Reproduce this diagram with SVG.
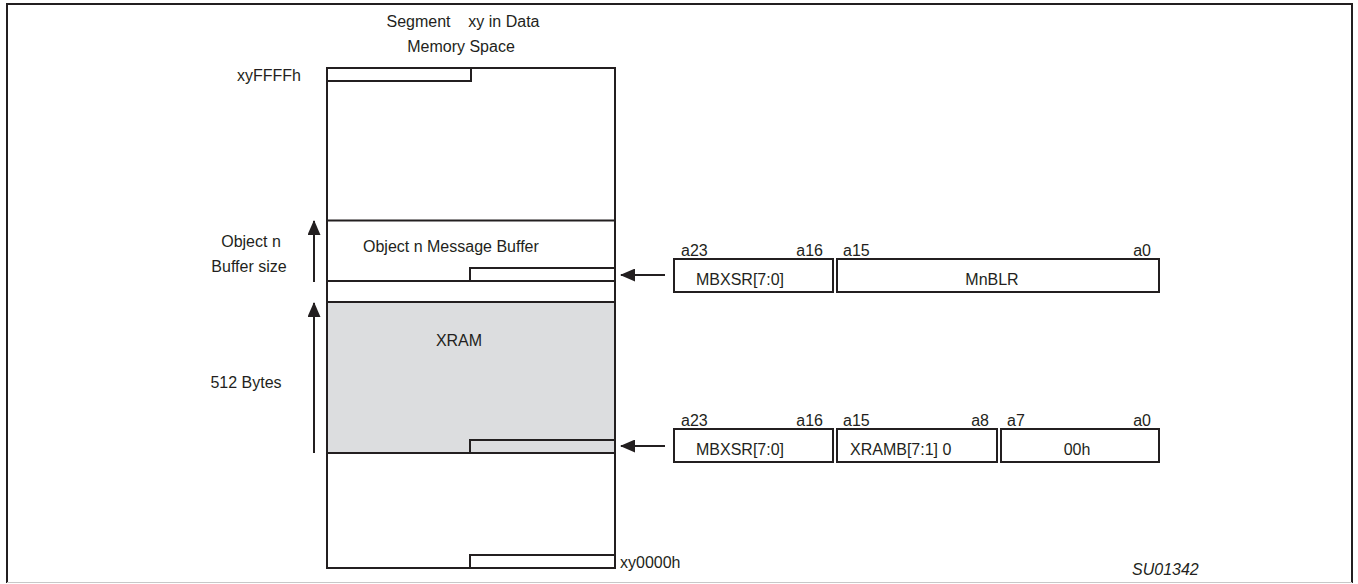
<svg xmlns="http://www.w3.org/2000/svg" width="1358" height="584" viewBox="0 0 1358 584">
<style>
text{font-family:"Liberation Sans",Arial,sans-serif;font-size:16px;fill:#231f20}
.ln{fill:none;stroke:#231f20;stroke-width:2}
.bx{fill:#fff;stroke:#231f20;stroke-width:2}
.gr{fill:#dcdddf;stroke:#231f20;stroke-width:2}
.ar{stroke:#231f20;stroke-width:2;fill:none}
.mid{text-anchor:middle}
.end{text-anchor:end}
</style>
<defs>
<marker id="ah" viewBox="0 0 15 13" refX="14" refY="6.5" markerWidth="15" markerHeight="13" markerUnits="userSpaceOnUse" orient="auto">
<path d="M0,0 L15,6.5 L0,13 Z" fill="#231f20"/>
</marker>
</defs>
<rect width="1358" height="584" fill="#fff"/>
<g id="frame">
<path d="M7,583 V4 H1352 V583" class="ln"/>
<line x1="7" y1="582.5" x2="1352" y2="582.5" stroke="#c8c8c8" stroke-width="1"/>
</g>
<g id="title">
<text x="463" y="27" class="mid" xml:space="preserve">Segment    xy in Data</text>
<text x="461" y="52" class="mid">Memory Space</text>
</g>
<g id="memory">
<rect x="327" y="68" width="288" height="500" class="bx"/>
<line x1="327" y1="220.5" x2="615" y2="220.5" class="ln"/>
<line x1="327" y1="281" x2="615" y2="281" class="ln"/>
<rect x="327" y="68" width="144" height="13" class="bx"/>
<text x="237" y="81">xyFFFFh</text>
<text x="620" y="568">xy0000h</text>
<rect x="470" y="555" width="145" height="13" class="bx"/>
</g>
<g id="msgbuf">
<text x="363" y="252">Object n Message Buffer</text>
<rect x="470" y="268" width="145" height="13" class="bx"/>
</g>
<g id="xram">
<rect x="327" y="302" width="288" height="151" class="gr"/>
<text x="459" y="346" class="mid">XRAM</text>
<rect x="470" y="440" width="145" height="13" class="gr"/>
</g>
<g id="labels">
<text x="251" y="247" class="mid">Object n</text>
<text x="249" y="272" class="mid">Buffer size</text>
<text x="246" y="388" class="mid">512 Bytes</text>
</g>
<g id="reg1">
<rect x="674" y="259" width="159" height="33" class="bx"/>
<rect x="837" y="259" width="322" height="33" class="bx"/>
<text x="681" y="256">a23</text>
<text x="823" y="256" class="end">a16</text>
<text x="843" y="256">a15</text>
<text x="1151" y="256" class="end">a0</text>
<text x="740" y="285" class="mid">MBXSR[7:0]</text>
<text x="992" y="285" class="mid">MnBLR</text>
</g>
<g id="reg2">
<rect x="674" y="429" width="159" height="33" class="bx"/>
<rect x="837" y="429" width="160" height="33" class="bx"/>
<rect x="1001" y="429" width="158" height="33" class="bx"/>
<text x="681" y="426">a23</text>
<text x="823" y="426" class="end">a16</text>
<text x="843" y="426">a15</text>
<text x="989" y="426" class="end">a8</text>
<text x="1007" y="426">a7</text>
<text x="1151" y="426" class="end">a0</text>
<text x="740" y="455" class="mid">MBXSR[7:0]</text>
<text x="850" y="455">XRAMB[7:1] 0</text>
<text x="1077" y="455" class="mid">00h</text>
</g>
<g id="connectors">
<line x1="314" y1="282" x2="314" y2="221" class="ar" marker-end="url(#ah)"/>
<line x1="314" y1="453" x2="314" y2="303" class="ar" marker-end="url(#ah)"/>
<line x1="665" y1="275" x2="621" y2="275" class="ar" marker-end="url(#ah)"/>
<line x1="665" y1="446" x2="621" y2="446" class="ar" marker-end="url(#ah)"/>
</g>
<text x="1132" y="575" font-style="italic">SU01342</text>
</svg>
